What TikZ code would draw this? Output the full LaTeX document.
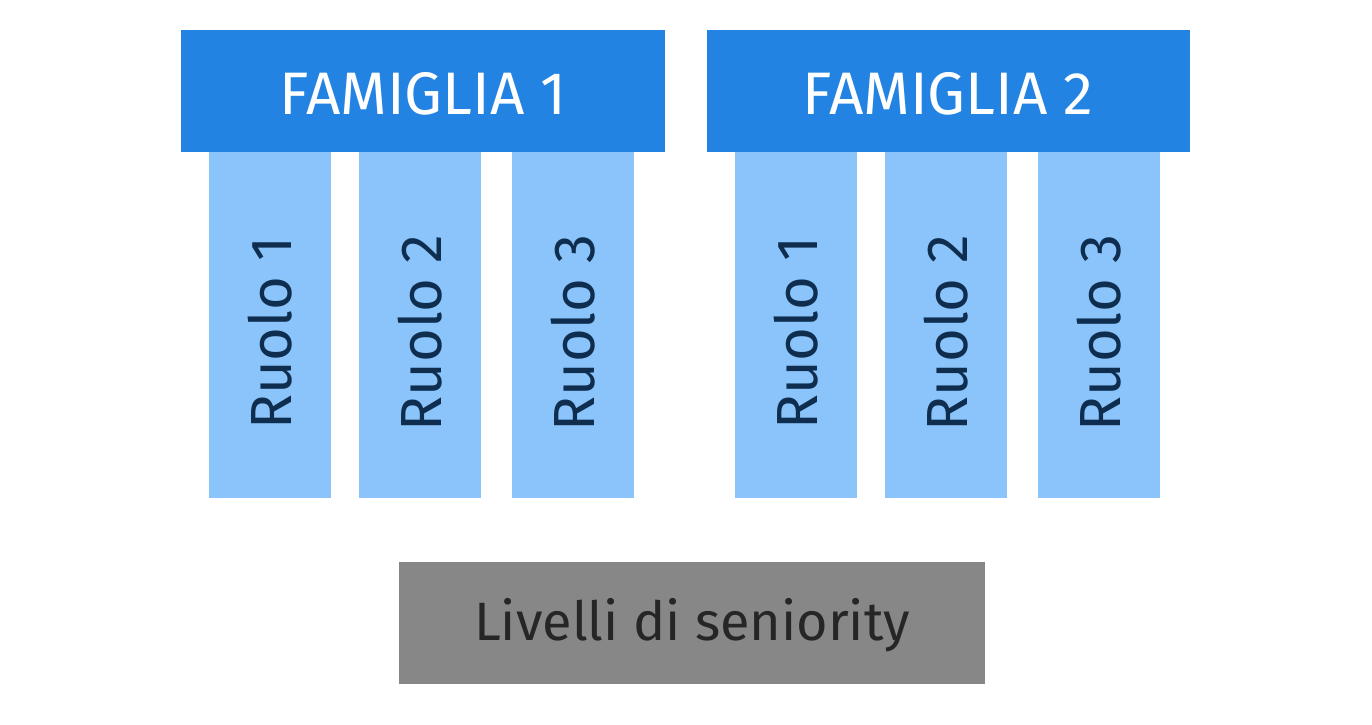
\documentclass[tikz,border=0pt]{standalone}
\usepackage{fontspec}
\setmainfont{Fira Sans}
\definecolor{fam}{HTML}{2383E2}
\definecolor{rol}{HTML}{8AC4FB}
\definecolor{rtx}{HTML}{0F2E4F}
\definecolor{liv}{HTML}{878787}
\begin{document}
\begin{tikzpicture}[x=1pt,y=-1pt,
 famb/.style={fill=fam,text=white,font=\fontsize{60}{60}\selectfont},
 rolb/.style={fill=rol,text=rtx,font=\fontsize{58}{58}\selectfont},
 livb/.style={fill=liv,text=black!85,font=\fontsize{54}{54}\selectfont}]
\useasboundingbox (0,0) rectangle (1372,724);
\fill[white] (0,0) rectangle (1372,724);
\foreach \n/\a/\b in {f1/181/665,f2/707/1190}{
 \fill[fam] (\a,30) rectangle (\b,152);}
\node[text=white,font=\fontsize{60}{60}\selectfont] (t1) at (423,94) {FAMIGLIA 1};
\node[text=white,font=\fontsize{60}{60}\selectfont] (t2) at (948,94) {FAMIGLIA 2};
\foreach \i/\a/\b/\k in {1/209/331/1,2/359/481/2,3/512/634/3,4/735/857/1,5/885/1007/2,6/1038/1160/3}{
 \fill[rol] (\a,152) rectangle (\b,498);
 \node[rotate=90,text=rtx,font=\fontsize{58}{58}\selectfont] (r\i) at ({(\a+\b)/2},333) {Ruolo \k};}
\fill[liv] (399,562) rectangle (985,684);
\node[text=black!85,font=\fontsize{54}{54}\selectfont] (lv) at (692,625) {Livelli di seniority};
\end{tikzpicture}
\end{document}
